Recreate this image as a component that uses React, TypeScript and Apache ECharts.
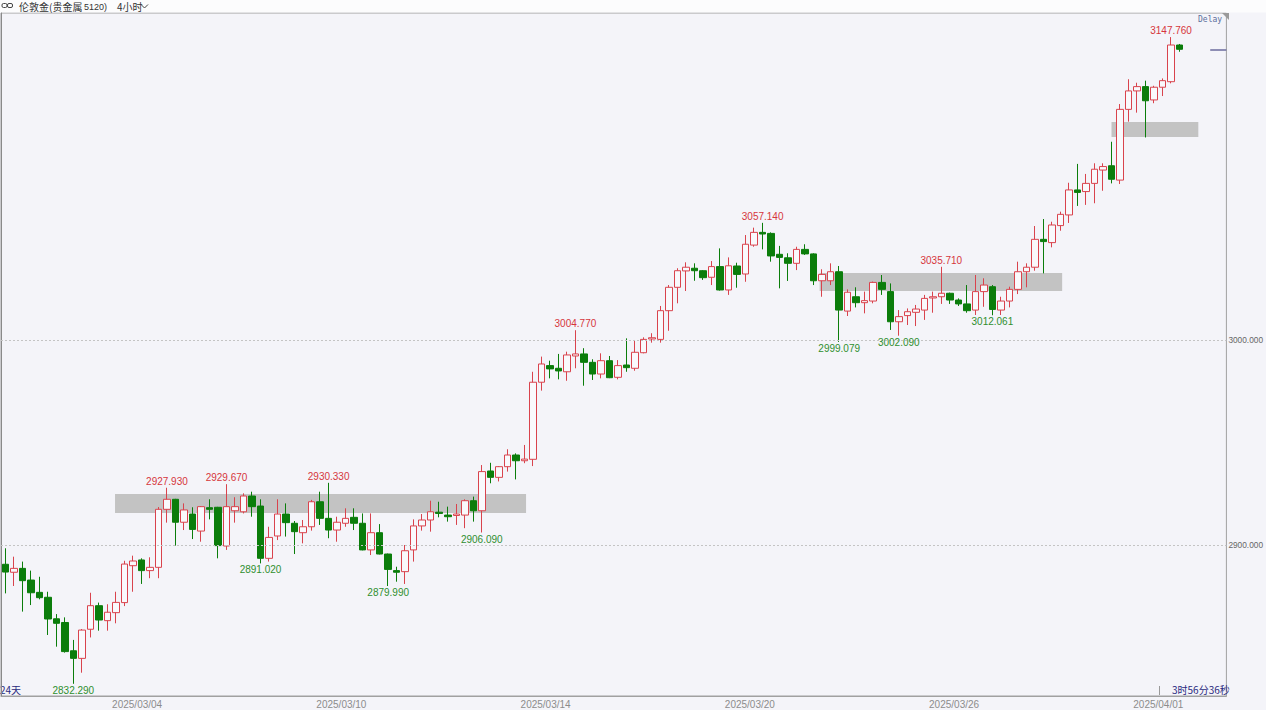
import React, { useEffect, useRef } from "react";
import * as echarts from "echarts";

// 4-hour London gold candles, oldest first
const opens = [
  2890.6, 2886.7, 2888.6, 2882.9, 2876.9, 2874.5, 2864.0, 2862.2, 2848.4, 2844.7,
  2858.9, 2870.4, 2863.1, 2867.0, 2871.9, 2889.9, 2892.7, 2887.5, 2889.1, 2917.4,
  2922.3, 2911.1, 2915.1, 2906.8, 2918.2, 2918.4, 2899.5, 2916.7, 2916.2, 2923.9,
  2919.0, 2893.5, 2904.4, 2915.1, 2910.6, 2906.0, 2908.9, 2921.1, 2913.0, 2907.3,
  2910.6, 2913.5, 2910.6, 2897.6, 2906.0, 2895.6, 2887.5, 2887.0, 2897.6, 2909.3,
  2912.2, 2916.0, 2914.6, 2914.4, 2914.6, 2921.6, 2916.7, 2936.1, 2933.0, 2938.2,
  2943.9, 2941.1, 2941.8, 2979.4, 2987.5, 2986.2, 2984.5, 2992.2, 2993.2, 2989.1,
  2983.4, 2989.9, 2981.8, 2987.8, 2986.2, 2993.8, 3000.5, 3000.3, 3014.3, 3025.7,
  3033.7, 3035.0, 3033.8, 3030.6, 3035.8, 3024.4, 3036.1, 3032.2, 3046.3, 3052.5,
  3052.0, 3041.8, 3040.1, 3037.4, 3044.2, 3042.0, 3028.9, 3028.9, 3033.3, 3014.1,
  3021.1, 3018.2, 3019.0, 3028.1, 3023.6, 3008.9, 3011.9, 3013.5, 3014.6, 3020.5,
  3021.1, 3022.8, 3019.5, 3017.6, 3014.6, 3023.6, 3026.0, 3014.6, 3019.0, 3024.7,
  3033.3, 3035.5, 3049.1, 3047.5, 3055.8, 3061.0, 3073.2, 3072.4, 3076.4, 3082.9,
  3085.0, 3078.0, 3112.5, 3121.5, 3123.6, 3117.1, 3123.3, 3126.0, 3143.9,
];
const closes = [
  2886.8, 2888.6, 2882.6, 2876.7, 2874.3, 2863.9, 2861.8, 2848.0, 2844.7, 2858.5,
  2870.4, 2863.4, 2867.2, 2872.0, 2890.7, 2892.2, 2887.5, 2889.1, 2917.4, 2922.3,
  2911.1, 2917.1, 2907.6, 2918.7, 2917.4, 2899.7, 2918.7, 2918.7, 2923.9, 2918.7,
  2893.5, 2903.7, 2915.1, 2910.9, 2906.5, 2908.9, 2921.1, 2913.0, 2907.3, 2911.1,
  2913.0, 2910.6, 2897.6, 2906.0, 2895.6, 2888.1, 2886.7, 2897.2, 2909.3, 2912.2,
  2916.2, 2915.4, 2913.8, 2915.1, 2921.6, 2916.7, 2935.8, 2933.0, 2938.2, 2943.9,
  2941.1, 2941.9, 2979.4, 2988.3, 2985.9, 2984.9, 2992.7, 2993.2, 2989.1, 2983.4,
  2989.9, 2981.6, 2987.5, 2986.5, 2994.0, 3000.3, 3001.1, 3014.3, 3025.7, 3033.8,
  3035.5, 3033.8, 3030.4, 3035.8, 3024.4, 3036.2, 3032.0, 3046.7, 3052.5, 3051.7,
  3041.0, 3040.3, 3037.4, 3044.2, 3042.0, 3028.9, 3032.0, 3033.3, 3014.6, 3023.3,
  3018.2, 3019.2, 3028.1, 3024.7, 3008.9, 3011.4, 3013.8, 3015.1, 3020.3, 3021.1,
  3022.8, 3019.5, 3017.6, 3014.3, 3023.6, 3026.8, 3014.9, 3019.0, 3024.7, 3033.3,
  3035.5, 3049.1, 3048.0, 3056.1, 3061.3, 3073.2, 3072.0, 3076.4, 3083.3, 3084.6,
  3078.4, 3112.5, 3121.5, 3123.6, 3116.7, 3123.3, 3126.5, 3143.9, 3141.8,
];
const lows = [
  2876.4, 2880.0, 2867.5, 2870.7, 2873.5, 2856.1, 2850.4, 2847.5, 2832.29, 2837.7,
  2854.9, 2858.2, 2858.2, 2861.8, 2870.2, 2877.2, 2881.0, 2883.8, 2883.8, 2910.9,
  2899.7, 2907.3, 2902.9, 2901.6, 2912.5, 2893.5, 2897.6, 2910.9, 2915.4, 2913.8,
  2891.02, 2891.9, 2902.4, 2904.1, 2895.6, 2900.8, 2907.0, 2909.8, 2903.3, 2901.6,
  2908.9, 2907.3, 2897.4, 2895.1, 2895.4, 2879.99, 2882.1, 2881.0, 2891.9, 2907.0,
  2906.5, 2913.5, 2911.4, 2909.8, 2908.2, 2911.4, 2906.09, 2930.1, 2931.0, 2935.8,
  2932.0, 2939.9, 2938.5, 2975.3, 2981.3, 2980.8, 2980.1, 2986.2, 2977.7, 2980.5,
  2981.3, 2981.4, 2980.8, 2984.5, 2985.0, 2993.5, 2998.7, 2998.7, 3004.5, 3017.9,
  3023.9, 3028.9, 3029.3, 3026.8, 3024.1, 3022.0, 3025.5, 3028.4, 3045.5, 3044.2,
  3038.2, 3025.2, 3028.8, 3034.1, 3041.5, 3026.8, 3021.1, 3026.8, 2999.079, 3011.7,
  3015.9, 3013.0, 3017.9, 3022.0, 3004.9, 3002.09, 3007.3, 3006.8, 3009.8, 3013.3,
  3017.6, 3017.6, 3016.6, 3013.3, 3012.2, 3016.2, 3012.061, 3012.2, 3015.9, 3022.4,
  3025.7, 3033.8, 3032.5, 3045.2, 3053.3, 3057.1, 3065.4, 3065.9, 3066.7, 3072.8,
  3076.4, 3076.1, 3106.5, 3110.9, 3098.8, 3115.5, 3119.0, 3125.2, 3140.6,
];
const highs = [
  2898.4, 2894.3, 2891.9, 2887.5, 2884.5, 2877.2, 2866.3, 2864.7, 2853.7, 2859.0,
  2876.7, 2871.9, 2871.1, 2877.2, 2892.3, 2894.8, 2893.5, 2894.0, 2918.5, 2927.93,
  2922.5, 2920.3, 2918.4, 2919.0, 2922.3, 2918.6, 2929.67, 2923.3, 2925.2, 2926.0,
  2922.3, 2908.9, 2922.3, 2920.3, 2911.7, 2912.2, 2922.0, 2926.0, 2930.33, 2913.8,
  2917.9, 2917.9, 2915.4, 2915.4, 2910.2, 2895.8, 2889.4, 2900.0, 2912.5, 2915.1,
  2921.6, 2921.1, 2918.7, 2920.0, 2922.3, 2923.6, 2939.0, 2940.1, 2938.5, 2946.7,
  2944.7, 2948.8, 2984.5, 2991.9, 2989.9, 2993.2, 2994.3, 3004.77, 2996.0, 2990.6,
  2993.5, 2992.2, 2990.2, 3000.8, 3000.0, 3001.3, 3003.3, 3016.6, 3026.8, 3035.0,
  3037.9, 3037.4, 3034.1, 3038.5, 3044.7, 3040.3, 3037.7, 3051.2, 3054.8, 3057.14,
  3052.5, 3045.9, 3042.3, 3045.5, 3046.7, 3042.3, 3034.5, 3037.4, 3036.1, 3024.7,
  3025.7, 3023.6, 3028.5, 3031.7, 3027.6, 3014.6, 3015.4, 3017.1, 3022.0, 3023.6,
  3035.71, 3023.1, 3020.3, 3026.8, 3031.7, 3030.1, 3026.8, 3021.1, 3026.0, 3038.2,
  3037.4, 3055.6, 3059.0, 3057.7, 3062.6, 3076.7, 3085.9, 3081.0, 3086.2, 3086.2,
  3096.7, 3115.1, 3127.2, 3125.5, 3126.5, 3124.0, 3127.6, 3147.76, 3144.4,
];

// candles whose extremes are annotated
const markedHighs = [19, 26, 38, 67, 89, 110, 137];
const markedLows = [8, 30, 45, 56, 98, 105, 116];

// support / resistance zones: [fromSlot, toSlot, top, bottom]
const zones: [number, number, number, number][] = [
  [13.4, 61.7, 2924.9, 2915.6],
  [96.2, 124.7, 3032.7, 3023.9],
  [130.5, 140.7, 3106.3, 3099.0],
];

// session starts that carry a date label (slot positions)
const dateSlots = [16, 40, 64, 88, 112, 136];
const dateLabels = ["2025/03/04", "2025/03/10", "2025/03/14", "2025/03/20", "2025/03/26", "2025/04/01"];

const priceTicks = [2900, 3000];
const SLOTS = 144;
const Y_MIN = 2826.34;
const Y_MAX = 3159.51;

const UP = "#d9434d";
const DOWN = "#0b7d0b";
const LATIN = "'Liberation Sans', Arial, sans-serif";
const CJK = "'Noto Sans CJK SC', sans-serif";

export default function App() {
  const ref = useRef<HTMLDivElement>(null);

  useEffect(() => {
    document.body.style.margin = "0";
    const chart = echarts.init(ref.current!, null, { renderer: "svg" });

    const data = opens.map((o, i) => [i + 0.5, o, closes[i], lows[i], highs[i]]);
    const last = data.length - 1;

    const markPoints = [
      ...markedHighs.map((i) => ({
        coord: [i + 0.5, highs[i]],
        value: highs[i],
        label: { position: "top", distance: 1, color: "#d6363c" },
      })),
      ...markedLows.map((i) => ({
        coord: [i + 0.5, lows[i]],
        value: lows[i],
        label: { position: "bottom", distance: 1, color: "#2f8f2f" },
      })),
    ];

    const option: any = {
      animation: false,
      backgroundColor: "#f4f4f9",
      grid: {
        left: 1,
        right: 37,
        top: 13,
        bottom: 14,
        show: true,
        backgroundColor: "#f4f4f9",
        borderColor: "#a0a0a0",
        borderWidth: 1,
      },
      xAxis: {
        type: "value",
        min: 0,
        max: SLOTS,
        axisLine: { show: true, lineStyle: { color: "#a0a0a0" } },
        axisTick: { show: false },
        splitLine: { show: false },
        axisLabel: {
          customValues: dateSlots,
          formatter: (v: number) => dateLabels[dateSlots.indexOf(v)] ?? "",
          color: "#8c8c8c",
          fontSize: 10,
          fontFamily: LATIN,
          margin: 3,
        },
      },
      yAxis: {
        type: "value",
        position: "right",
        min: Y_MIN,
        max: Y_MAX,
        axisLine: { show: true, lineStyle: { color: "#8a8a8a" } },
        axisTick: { show: false },
        splitLine: { show: false },
        axisLabel: {
          customValues: priceTicks,
          formatter: (v: number) => v.toFixed(3),
          color: "#666",
          fontSize: 8.3,
          fontFamily: LATIN,
          margin: 2,
        },
      },
      series: [
        {
          type: "candlestick",
          dimensions: ["slot", "open", "close", "lowest", "highest"],
          encode: { x: 0, y: [1, 2, 3, 4] },
          data,
          barWidth: 7,
          itemStyle: {
            color: "#f9f9fc",
            color0: DOWN,
            borderColor: UP,
            borderColor0: DOWN,
            borderWidth: 1,
          },
          markArea: {
            silent: true,
            itemStyle: { color: "#c3c3c3" },
            data: zones.map(([x0, x1, top, bottom]) => [
              { coord: [x0, top] },
              { coord: [x1, bottom] },
            ]),
          },
          markLine: {
            silent: true,
            symbol: ["none", "none"],
            label: { show: false },
            data: [
              ...priceTicks.map((p) => ({
                yAxis: p,
                lineStyle: { color: "#c4c4c4", type: [2, 2], width: 1 },
              })),
              [
                { coord: [142.1, closes[last]], lineStyle: { color: "#6b6b9d", type: "solid", width: 1.5 } },
                { coord: [SLOTS, closes[last]] },
              ],
            ],
          },
          markPoint: {
            silent: true,
            symbol: "rect",
            symbolSize: 1,
            itemStyle: { color: "rgba(0,0,0,0)" },
            label: {
              show: true,
              fontSize: 10,
              fontFamily: LATIN,
              formatter: (p: any) => Number(p.value).toFixed(3),
            },
            data: markPoints,
          },
        },
      ],
      graphic: [
        { type: "rect", left: 0, top: 0, shape: { width: 1266, height: 12.5 }, style: { fill: "#fcfcfd" }, silent: true },
        // link icon
        { type: "rect", shape: { x: 2, y: 3.5, width: 5, height: 4, r: 1.5 }, style: { fill: "none", stroke: "#444", lineWidth: 1 } },
        { type: "rect", shape: { x: 7.5, y: 3.5, width: 5, height: 4, r: 1.5 }, style: { fill: "none", stroke: "#444", lineWidth: 1 } },
        { type: "text", x: 19, y: 6.5, style: { text: "伦敦金(贵金属", font: `10px ${CJK}`, fill: "#333", verticalAlign: "middle" } },
        { type: "text", x: 84, y: 6.5, style: { text: "5120)", font: `9px ${LATIN}`, fill: "#333", verticalAlign: "middle" } },
        { type: "text", x: 117, y: 6.5, style: { text: "4小时", font: `10px ${CJK}`, fill: "#333", verticalAlign: "middle" } },
        { type: "polyline", shape: { points: [[141, 4.5], [144.5, 8], [148, 4.5]] }, style: { stroke: "#444", lineWidth: 1, fill: "none" } },
        { type: "text", x: 1198, y: 19, style: { text: "Delay", font: `8px 'DejaVu Sans Mono', monospace`, fill: "#5b6f9c", verticalAlign: "middle" } },
        { type: "polygon", shape: { points: [[1222, 13], [1229, 13], [1229, 20]] }, style: { fill: "#9a9a9a" } },
        { type: "text", x: 0, y: 689, style: { text: "24天", font: `10px ${CJK}`, fill: "#2b2b80", verticalAlign: "middle" } },
        { type: "text", x: 1172, y: 689, style: { text: "3时56分36秒", font: `10px ${CJK}`, fill: "#2b2b80", verticalAlign: "middle" } },
        { type: "line", shape: { x1: 1159.5, y1: 686, x2: 1159.5, y2: 695 }, style: { stroke: "#9a9a9a", lineWidth: 1 } },
      ],
    };

    chart.setOption(option);
    return () => chart.dispose();
  }, []);

  return <div ref={ref} style={{ width: 1266, height: 710 }} />;
}
